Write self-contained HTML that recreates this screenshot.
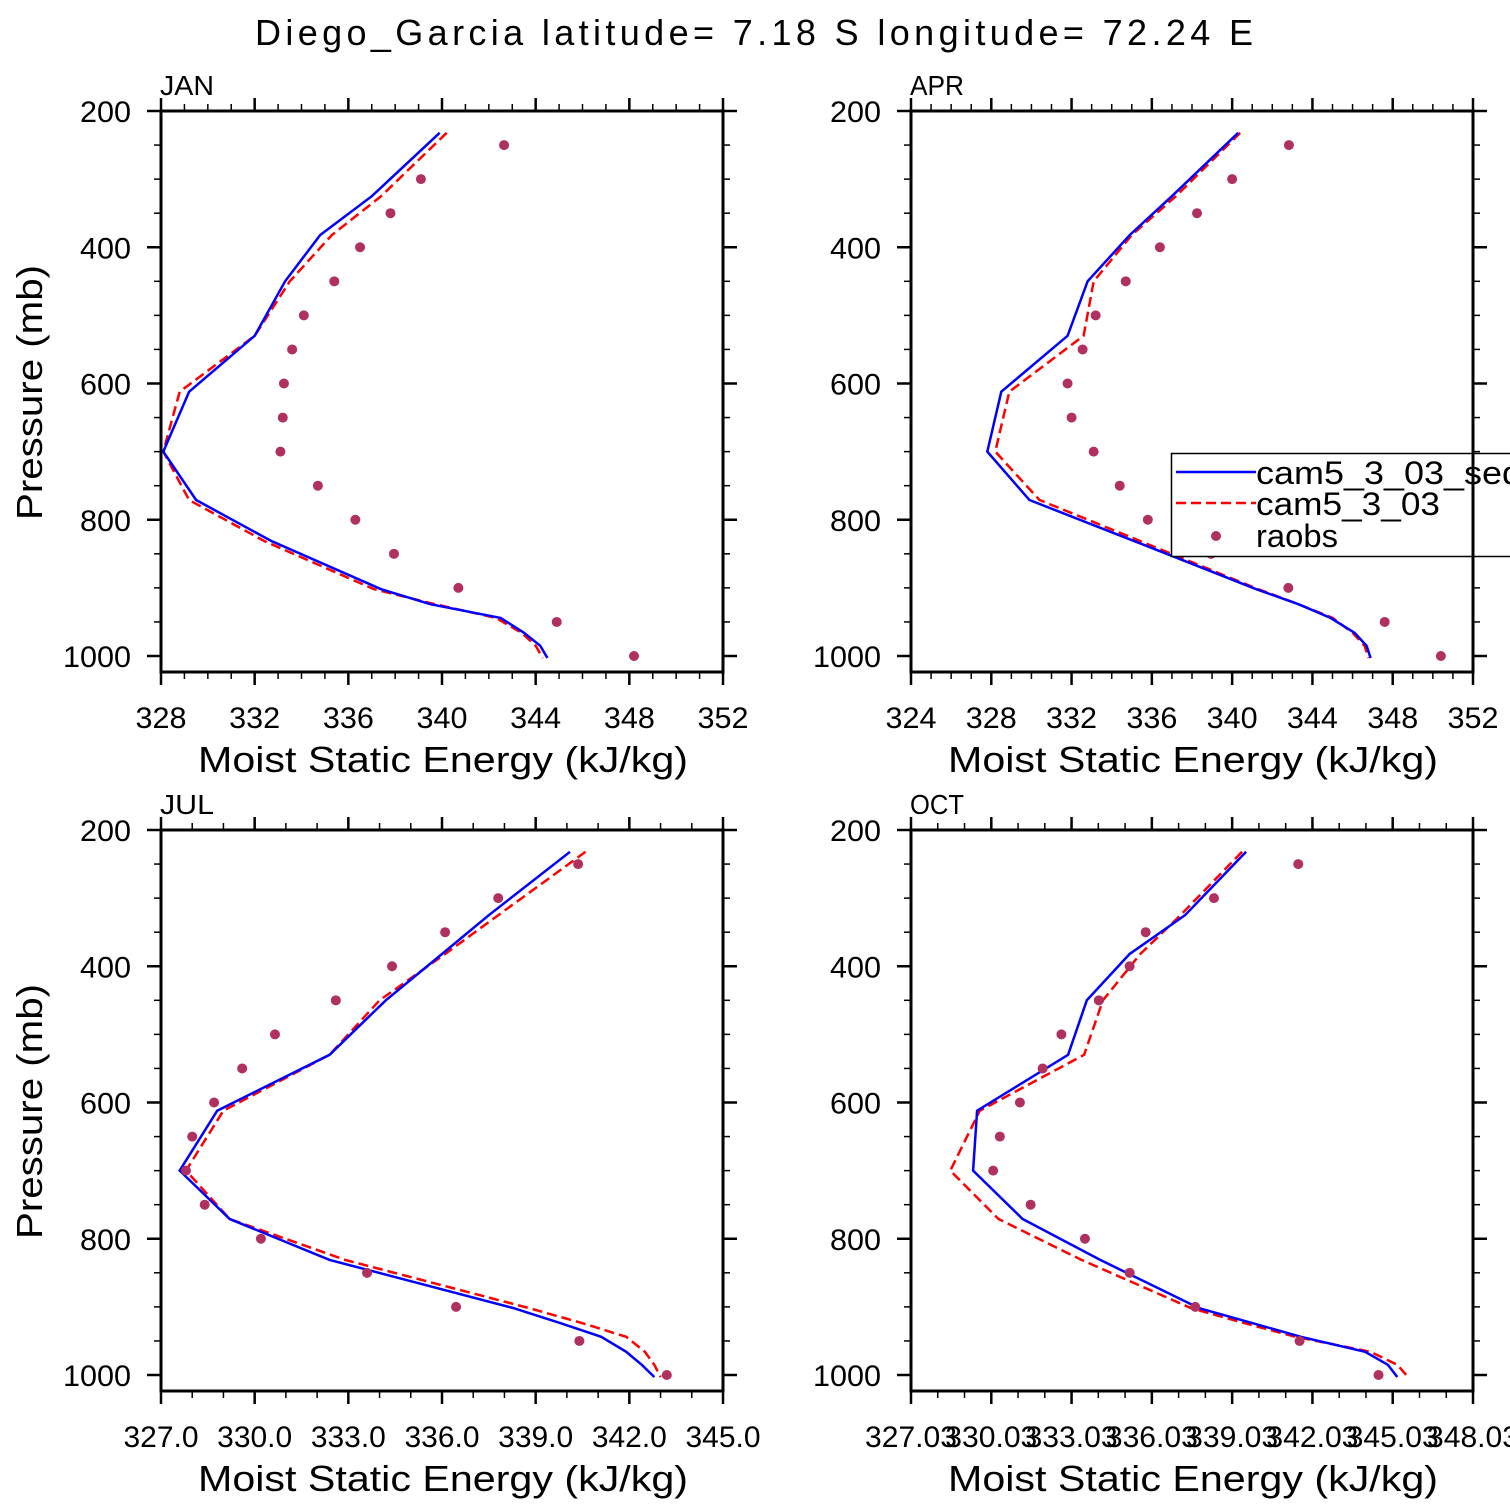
<!DOCTYPE html>
<html><head><meta charset="utf-8">
<style>
html,body{margin:0;padding:0;background:#fff;overflow:hidden;}
svg{display:block;font-family:"Liberation Sans","DejaVu Sans",sans-serif;}
</style></head>
<body>
<svg id="chart" width="1510" height="1510" viewBox="0 0 1510 1510">
<text x="255" y="45" font-size="36" textLength="998" lengthAdjust="spacing">Diego_Garcia  latitude= 7.18 S longitude= 72.24 E</text>
</svg>
<script>
const modelLevels = [232,325,382,450,530,612,700,771,831,902,924,944,966,985,1003];
const obsLevels = [250,300,350,400,450,500,550,600,650,700,750,800,850,900,950,1000];
const panelNames = ["JAN","APR","JUL","OCT"];
const janSeq = [339.9,337.0,334.8,333.3,332.0,329.2,328.1,329.5,332.7,337.4,339.5,342.5,343.5,344.2,344.5];
const janCam = [340.2,337.4,335.3,333.5,332.0,328.8,328.1,329.2,332.4,337.1,339.7,342.3,343.4,344.0,344.3];
const janObs = [342.65,339.1,337.8,336.5,335.4,334.1,333.6,333.25,333.2,333.1,334.7,336.3,337.95,340.7,344.9,348.2];
const aprSeq = [340.3,337.0,334.9,332.8,331.8,328.5,327.8,329.9,335.1,341.2,343.3,344.9,346.1,346.7,346.9];
const aprCam = [340.4,337.2,335.0,333.1,332.6,328.9,328.2,330.4,335.4,341.3,343.3,345.0,346.0,346.6,346.8];
const aprObs = [342.83,340.0,338.25,336.4,334.7,333.2,332.55,331.8,332.0,333.1,334.4,335.8,338.95,342.8,347.6,350.4];
const julSeq = [340.1,337.5,336.0,334.2,332.4,328.8,327.6,329.2,332.4,338.3,339.8,341.1,341.9,342.4,342.8];
const julCam = [340.6,337.8,336.1,334.0,332.4,329.0,327.8,329.2,332.9,338.8,340.5,341.9,342.5,342.8,343.0];
const julObs = [340.36,337.8,336.1,334.4,332.6,330.65,329.6,328.7,328.0,327.8,328.4,330.2,333.6,336.45,340.4,343.2];
const octSeq = [339.55,337.27,335.2,333.6,332.9,329.5,329.35,331.2,334.1,337.8,339.8,341.6,344.0,344.85,345.2];
const octCam = [339.4,337.1,335.6,334.2,333.5,329.6,328.5,330.3,333.4,337.5,339.5,341.4,344.2,345.2,345.6];
const octObs = [341.5,338.35,335.8,335.2,334.05,332.65,331.95,331.1,330.35,330.1,331.5,333.53,335.2,337.65,341.55,344.5];
const xTicksJan = ["328","332","336","340","344","348","352"];
const xTicksApr = ["324","328","332","336","340","344","348","352"];
const xTicksJul = ["327.0","330.0","333.0","336.0","339.0","342.0","345.0"];
const xTicksOct = ["327.03","330.03","333.03","336.03","339.03","342.03","345.03","348.03"];
const yTickLabels = ["200","400","600","800","1000"];

const NS="http://www.w3.org/2000/svg";
const svg=document.getElementById('chart');
function mk(tag,attrs,parent){const e=document.createElementNS(NS,tag);for(const k in attrs)e.setAttribute(k,attrs[k]);(parent||svg).appendChild(e);return e;}
const CW=17; // approx char width of reference font

const panels=[
 {name:"JAN",left:161,top:111,xmin:328,xmax:352,minors:3,ticks:xTicksJan,seq:janSeq,cam:janCam,obs:janObs,ytitle:true,legend:false},
 {name:"APR",left:911,top:111,xmin:324,xmax:352,minors:3,ticks:xTicksApr,seq:aprSeq,cam:aprCam,obs:aprObs,ytitle:false,legend:true},
 {name:"JUL",left:161,top:830,xmin:327,xmax:345,minors:2,ticks:xTicksJul,seq:julSeq,cam:julCam,obs:julObs,ytitle:true,legend:false},
 {name:"OCT",left:911,top:830,xmin:327.03,xmax:348.03,minors:2,ticks:xTicksOct,seq:octSeq,cam:octCam,obs:octObs,ytitle:false,legend:false}
];
const W=562, PXP=545/800, H=561;

panels.forEach(p=>{
  const id=p.name.toLowerCase();
  const g=mk('g',{});
  
  
  const xs=v=>p.left+(v-p.xmin)*W/(p.xmax-p.xmin);
  const ys=pr=>p.top+(pr-200)*PXP;
  const bottom=p.top+H, right=p.left+W;
  const nMaj=p.ticks.length-1, step=(p.xmax-p.xmin)/nMaj;
  for(let i=0;i<=nMaj;i++){
    const x=xs(p.xmin+i*step);
    mk('line',{x1:x,x2:x,y1:bottom,y2:bottom+13,stroke:'#000','stroke-width':2.5},g);
    mk('line',{x1:x,x2:x,y1:p.top,y2:p.top-13,stroke:'#000','stroke-width':2.5},g);
    const s=p.ticks[i];
    const tl=s.replace('.','').length*CW+(s.includes('.')?7:0);
    const t=mk('text',{x:x-tl/2,y:bottom+56,'font-size':30,textLength:tl,lengthAdjust:'spacingAndGlyphs'},g);
    t.textContent=s;
    
    
    if(i<nMaj){for(let m=1;m<=p.minors;m++){const xm=xs(p.xmin+i*step+m*step/(p.minors+1));
      mk('line',{x1:xm,x2:xm,y1:bottom,y2:bottom+7,stroke:'#000','stroke-width':1.5},g);
      mk('line',{x1:xm,x2:xm,y1:p.top,y2:p.top-7,stroke:'#000','stroke-width':1.5},g);}}
  }
  for(let pr=200;pr<=1000;pr+=50){
    const y=ys(pr), maj=(pr%200===0), L=maj?14:7, sw=maj?2.5:1.5;
    mk('line',{x1:p.left,x2:p.left-L,y1:y,y2:y,stroke:'#000','stroke-width':sw},g);
    mk('line',{x1:right,x2:right+L,y1:y,y2:y,stroke:'#000','stroke-width':sw},g);
  }
  yTickLabels.forEach(s=>{
    const tl=s.length*CW;
    const t=mk('text',{x:p.left-30-tl,y:ys(+s)+11,'font-size':30,textLength:tl,lengthAdjust:'spacingAndGlyphs'},g);
    t.textContent=s;
    
    
  });
  const pt=mk('text',{x:p.left-1,y:p.top-16,'font-size':28,textLength:p.name.length*18,lengthAdjust:'spacingAndGlyphs'},g);
  pt.textContent=p.name;
  
  
  const xt=mk('text',{x:p.left+37,y:bottom+100,'font-size':36,textLength:490,lengthAdjust:'spacingAndGlyphs'},g);
  xt.textContent="Moist Static Energy (kJ/kg)";
  
  
  if(p.ytitle){
    const yt=mk('text',{x:0,y:0,'font-size':36,textLength:255,lengthAdjust:'spacingAndGlyphs',transform:`translate(42,${p.top+409}) rotate(-90)`},g);
    yt.textContent="Pressure (mb)";
    
    
  }
  const cp=document.createElementNS(NS,'clipPath');cp.setAttribute('id','clip'+id);svg.appendChild(cp);
  mk('rect',{x:p.left,y:p.top,width:W,height:H},cp);
  const dcam=p.cam.map((v,i)=>(i?'L':'M')+xs(v).toFixed(1)+','+ys(modelLevels[i]).toFixed(1)).join(' ');
  const lc=mk('path',{d:dcam,fill:'none',stroke:'#ff0000','stroke-width':2.5,'stroke-dasharray':'10,5','clip-path':`url(#clip${id})`},g);
  
  
  const dseq=p.seq.map((v,i)=>(i?'L':'M')+xs(v).toFixed(1)+','+ys(modelLevels[i]).toFixed(1)).join(' ');
  const ls=mk('path',{d:dseq,fill:'none',stroke:'#0000ff','stroke-width':2.5,'clip-path':`url(#clip${id})`},g);
  
  
  p.obs.forEach((v,i)=>{
    const c=mk('circle',{cx:xs(v),cy:ys(obsLevels[i]),r:5,fill:'#b0305f'},g);
    
    
  });
  if(p.legend){
    const lg=mk('g',{},g);
    
    
    mk('rect',{x:1171.5,y:453.5,width:360,height:103,fill:'#fff',stroke:'#000','stroke-width':1.5},lg);
    mk('line',{x1:1176,x2:1256,y1:472,y2:472,stroke:'#0000ff','stroke-width':2.5},lg);
    mk('line',{x1:1176,x2:1256,y1:503,y2:503,stroke:'#ff0000','stroke-width':2.5,'stroke-dasharray':'10,5'},lg);
    mk('circle',{cx:1216,cy:536,r:5,fill:'#b0305f'},lg);
    [["cam5_3_03_seq",484,266],["cam5_3_03",515,184],["raobs",547,82]].forEach(([s,y,w])=>{
      const t=mk('text',{x:1256,y:y,'font-size':32,textLength:w,lengthAdjust:'spacingAndGlyphs'},lg);t.textContent=s;
      
      
    });
  }
  const frame=mk('rect',{x:p.left,y:p.top,width:W,height:H,fill:'none',stroke:'#000','stroke-width':3},g);
  
  
});
</script>
</body></html>
